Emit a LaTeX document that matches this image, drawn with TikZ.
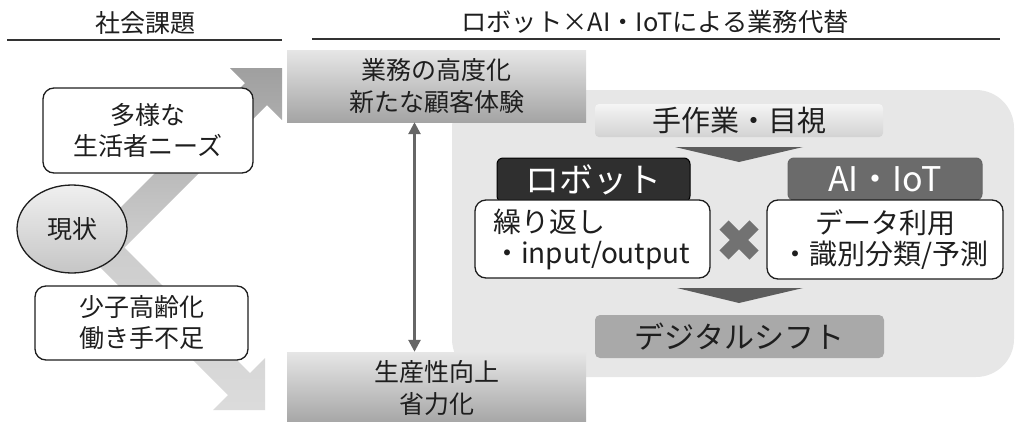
\documentclass[tikz,border=0pt]{standalone}
\usepackage{fontspec}
\setmainfont{Noto Sans CJK JP}
\usetikzlibrary{arrows.meta,shapes.geometric}
\definecolor{ink}{HTML}{1E1E1E}
\definecolor{rulec}{HTML}{333333}
\definecolor{regionc}{HTML}{E7E7E7}
\definecolor{gtop}{HTML}{E6E6E6}
\definecolor{gbot}{HTML}{A4A4A4}
\definecolor{robotc}{HTML}{2F2F2F}
\definecolor{aic}{HTML}{6B6B6B}
\definecolor{digic}{HTML}{A9A9A9}
\definecolor{wedgec}{HTML}{5C5C5C}
\definecolor{crossc}{HTML}{727272}
\definecolor{arrc}{HTML}{666666}
\begin{document}
\begin{tikzpicture}[x=1pt,y=-1pt,
  ttl/.style={text=ink,inner sep=0},
  rulel/.style={draw=rulec,line width=1.6},
  gbox/.style={top color=gtop,bottom color=gbot,draw=none,minimum width=299,
    align=center,inner sep=0,text=ink,font=\fontsize{25}{32}\selectfont},
  wbox/.style={fill=white,draw=ink,line width=1.3,rounded corners=11,inner sep=0,
    text=ink,font=\fontsize{25}{31}\selectfont},
  hdr/.style={rounded corners=6,inner sep=0,text=white,font=\fontsize{34}{40}\selectfont},
  dbl/.style={draw=arrc,line width=2.6,{Triangle[length=12,width=12]}-{Triangle[length=12,width=12]}}
]
\useasboundingbox (0,0) rectangle (1015,421);

% titles and rules
\node[ttl,font=\fontsize{25}{30}\selectfont] (t1) at (145,23) {社会課題};
\node[ttl,font=\fontsize{25.3}{30}\selectfont] (t2) at (655,22) {ロボット×AI・IoTによる業務代替};
\draw[rulel] (7,40) -- (282,40);
\draw[rulel] (312,39) -- (1000,39);

% light region
\fill[regionc,rounded corners=38] (452,90) rectangle (1014,377);

% chevron arrows
\shade[top color=gray!75,bottom color=gray!28,middle color=gray!40]
  (80.5,247.5) -- (245,83) -- (230,68) -- (282,68) -- (282,120) -- (267,105)
  -- (124.5,247.5) -- (250,373) -- (265,358) -- (265,410) -- (213,410)
  -- (228,395) -- cycle;

\node[ellipse,draw=ink,line width=1.3,top color=gray!12,bottom color=gray!45,
  minimum width=110,minimum height=88,inner sep=0,text=ink,
  font=\fontsize{25}{30}\selectfont] (now) at (72,229) {現状};

\node[wbox,minimum width=210,minimum height=85,align=center] (need) at (148,130.5)
  {多様な\\生活者ニーズ};
\node[wbox,minimum width=213,minimum height=74,align=center] (low) at (141.5,323)
  {少子高齢化\\働き手不足};

% result boxes
\node[gbox,minimum height=72] (topbox) at (436.5,86) {業務の高度化\\新たな顧客体験};
\node[gbox,minimum height=73] (botbox) at (436.5,388.5) {生産性向上\\省力化};
\draw[dbl] ([xshift=-22]topbox.south) -- ([xshift=-22]botbox.north);

% right side
\node[top color=gray!8,bottom color=gray!35,rounded corners=4,minimum width=288,
  minimum height=33,inner sep=0,text=ink,font=\fontsize{29}{34}\selectfont]
  (manual) at (739,120.5) {手作業・目視};
\fill[wedgec] (675,147) -- (803,147) -- (739,162) -- cycle;

\node[hdr,fill=robotc,draw=black,line width=1,minimum width=193,minimum height=44]
  (robot) at (593.5,180) {ロボット};
\node[hdr,fill=aic,draw=gray!80!black,line width=1,minimum width=194,minimum height=42]
  (ai) at (885,179) {AI・IoT};

\node[wbox,minimum width=235,minimum height=78,align=left,text width=199,
  inner xsep=18,font=\fontsize{28}{31}\selectfont] (rep) at (592.5,239)
  {繰り返し\\・input/output};
\node[wbox,minimum width=236,minimum height=79,align=center,
  font=\fontsize{28}{31}\selectfont] (data) at (885,239.5)
  {データ利用\\・識別分類/予測};

\coordinate (cross) at (739,240);
\draw[crossc,line width=13] ([shift={(-15,-15)}]cross) -- ([shift={(15,15)}]cross);
\draw[crossc,line width=13] ([shift={(15,-15)}]cross) -- ([shift={(-15,15)}]cross);

\fill[wedgec] (677,288) -- (803,288) -- (739,303) -- cycle;

\node[fill=digic,rounded corners=5,minimum width=289,minimum height=43,inner sep=0,
  text=ink,font=\fontsize{30}{36}\selectfont] (digi) at (739.5,336.5) {デジタルシフト};
\end{tikzpicture}
\end{document}
